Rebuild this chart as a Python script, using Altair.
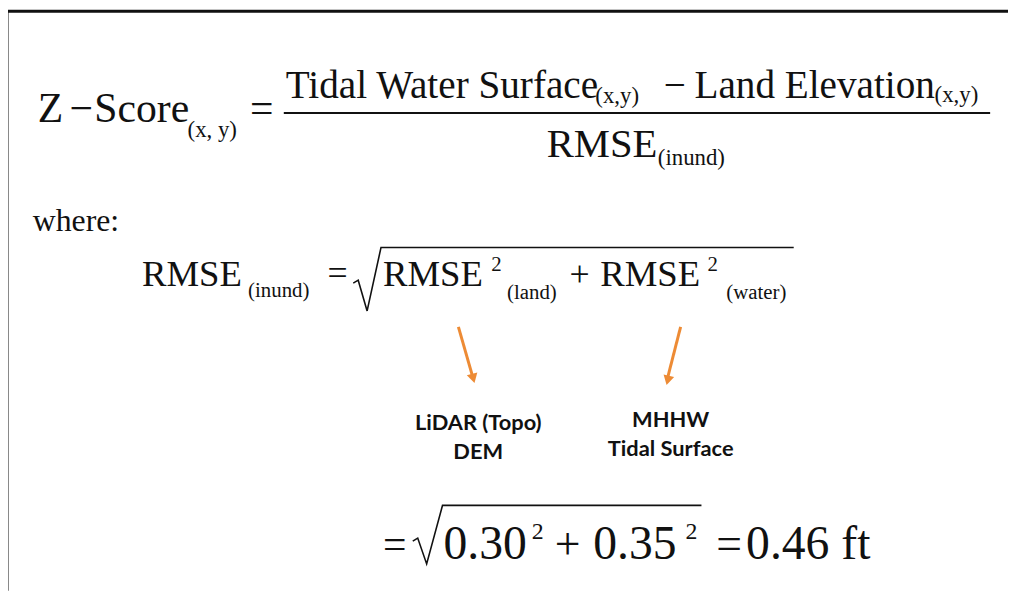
import altair as alt
import pandas as pd

# ---- text content (serif, left aligned) ----
serif_text = ["Z", "\u2212", "Score", "(x, y)", "=",
              "Tidal Water Surface", "(x,y)", "\u2212", "Land Elevation", "(x,y)",
              "RMSE", "(inund)",
              "where:",
              "RMSE", "(inund)", "=", "RMSE", "2", "(land)", "+", "RMSE", "2", "(water)",
              "=", "0.30", "2", "+", "0.35", "2", "=", "0.46 ft"]
serif_x = [38, 70, 95, 189, 252,
           288, 600, 669, 700, 942,
           551, 663,
           33,
           143, 250, 330, 386, 495, 511, 574, 605, 713, 732,
           386, 447, 536, 559, 598, 691, 722, 752]
serif_y = [121, 121, 121, 136, 121,
           96, 101, 96, 96, 100,
           156, 164,
           230,
           286, 297, 285, 286, 271, 299, 286, 286, 271, 299,
           560, 561, 541, 561, 561, 541, 561, 561]
serif_size = [42, 42, 42, 23, 42,
              39.5, 23, 39.5, 39.5, 23,
              41, 23,
              32,
              37, 21, 36, 37, 21, 21, 36, 37, 21, 21,
              42, 48, 24, 46, 48, 24, 46, 48]

# ---- annotation labels (sans bold, centred) ----
label_text = ["LiDAR (Topo)", "DEM", "MHHW", "Tidal Surface"]
label_x = [482, 482, 676, 676]
label_y = [431, 460, 428, 457]

# ---- line paths: fraction bar, radicals, frame ----
path_id = ["frac", "frac",
           "sq1", "sq1", "sq1", "sq1", "sq1",
           "sq2", "sq2", "sq2", "sq2", "sq2",
           "frame", "frame", "frame"]
path_x = [286, 998,
          356, 361, 370, 384, 800,
          416, 421, 430, 446, 707,
          7, 7, 1016]
path_y = [111.5, 111.5,
          283, 280, 311, 247, 247,
          543, 540, 566, 507, 507,
          593, 9, 9]
path_w = [2, 2,
          1.6, 1.6, 1.6, 1.6, 1.6,
          1.6, 1.6, 1.6, 1.6, 1.6,
          3, 3, 3]

# ---- arrows ----
arrow_x = [462, 686]
arrow_y = [327, 327]
arrow_x2 = [476, 673]
arrow_y2 = [376, 378]
head_x = [477, 673]
head_y = [379, 381]
head_angle = [345, 14]

ORANGE = "#ED8B35"
SERIF = "'Liberation Serif', 'Times New Roman', Times, serif"

X = lambda f: alt.X(f, type="quantitative", scale=alt.Scale(domain=[8, 1016], nice=False, zero=False), axis=None)
Y = lambda f: alt.Y(f, type="quantitative", scale=alt.Scale(domain=[8, 593], nice=False, zero=False, reverse=True), axis=None)

serif_df = pd.DataFrame({"t": serif_text, "x": serif_x, "y": serif_y, "s": serif_size, "i": range(len(serif_text))})
label_df = pd.DataFrame({"t": label_text, "x": label_x, "y": label_y})
path_df = pd.DataFrame({"id": path_id, "x": path_x, "y": path_y, "w": path_w, "o": range(len(path_id))})
arrow_df = pd.DataFrame({"x": arrow_x, "y": arrow_y, "x2": arrow_x2, "y2": arrow_y2,
                         "hx": head_x, "hy": head_y, "a": head_angle})

serif = alt.Chart(serif_df).mark_text(
    font=SERIF, align="left", baseline="alphabetic", color="#111111"
).encode(
    x=X("x"), y=Y("y"), text="t:N", size=alt.Size("s:Q", scale=None), detail="i:N"
)

labels = alt.Chart(label_df).mark_text(
    font="Lato", fontWeight="bold", fontSize=22, align="center", baseline="alphabetic", color="#111111"
).encode(x=X("x"), y=Y("y"), text="t:N")

paths = alt.Chart(path_df).mark_line(color="#111111", strokeJoin="miter").encode(
    x=X("x"), y=Y("y"), detail="id:N", order="o:Q",
    strokeWidth=alt.StrokeWidth("w:Q", scale=None)
)

arrows = alt.Chart(arrow_df).mark_rule(color=ORANGE, strokeWidth=3).encode(
    x=X("x"), y=Y("y"), x2="x2:Q", y2="y2:Q"
)

heads = alt.Chart(arrow_df).mark_point(
    shape="triangle-down", filled=True, color=ORANGE, size=120, opacity=1
).encode(x=X("hx"), y=Y("hy"), angle=alt.Angle("a:Q", scale=None))

chart = alt.layer(paths, arrows, heads, serif, labels).properties(
    width=1008, height=585, autosize=alt.AutoSizeParams(type="none"), padding=0,
    background="white"
).configure_view(stroke=None)

chart.save("out.html", embed_options={"renderer": "svg", "actions": False})
